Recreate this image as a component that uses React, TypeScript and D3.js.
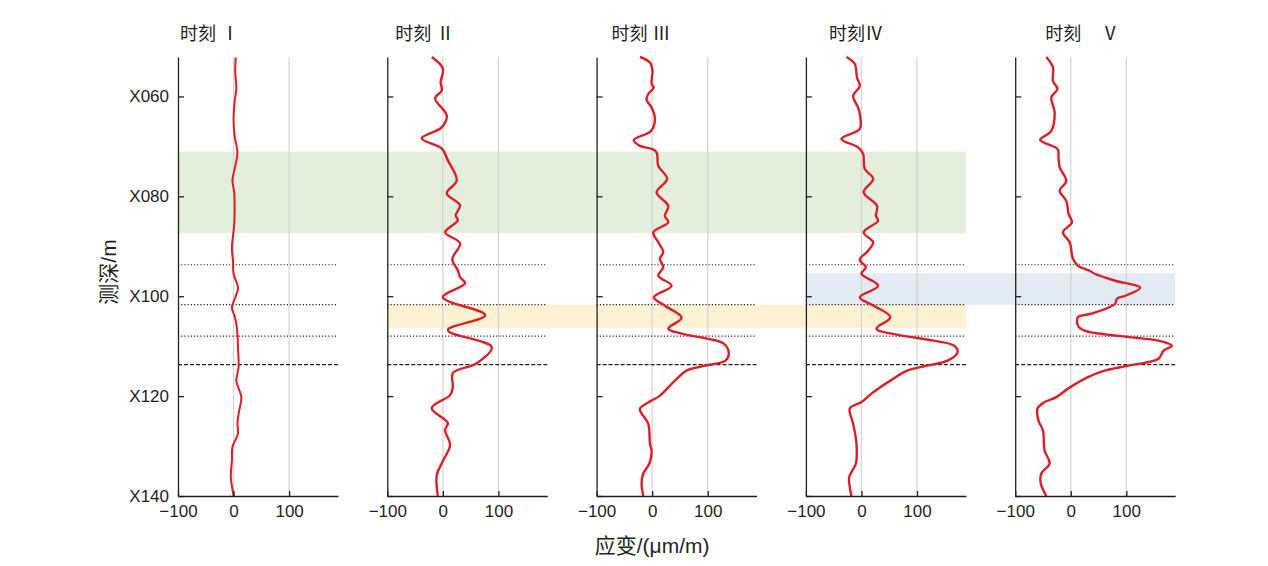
import * as d3 from "d3";
import { useEffect, useRef } from "react";

// depth (m, "X" prefix dropped) and strain (μm/m)
const TITLES = ["时刻 Ⅰ", "时刻 Ⅱ", "时刻 Ⅲ", "时刻Ⅳ", "时刻    Ⅴ"];

const DEPTH_1 = [52.2, 55, 58.4, 61, 64.8, 68, 71.2, 74, 76.8, 79, 82.8, 86, 90.3, 93, 95.5, 98.3, 100, 102.3, 104, 106.3, 110.3, 114.3, 116.9, 120.2, 123, 125.4, 127.5, 130.2, 133, 136.2, 138, 140];
const STRAIN_1 = [4, 3, 5, 2, 0, 2, 7, 3, -2, 1, 2, 1, -3, -1, 0, 8, 4, -3, 2, 6, 8, 9, 5, 14, 10, 7, 8, -2, -3, -5, -3, 0];

const DEPTH_2 = [52.1, 54.4, 57.2, 58.8, 60.4, 63.8, 66.2, 68.4, 70.4, 72.8, 76.8, 79.4, 81.8, 83.8, 84.8, 87.2, 89.4, 92.6, 94.8, 96.2, 97.4, 100.2, 103.8, 106.8, 110.2, 113.4, 115.4, 118.2, 119.8, 122.4, 125.4, 126.8, 129.8, 133, 135.8, 140];
const STRAIN_2 = [-20, 0, -4, -2, -14, 7, -2, -38, -2, 9, 25, 7, 31, 23, 27, 4, 31, 17, 27, 31, 40, 0, 76, 9, 88, 61, 18, 18, 13, -20, 9, 4, 13, 0, -11, -9];

const DEPTH_3 = [52.1, 53.2, 54.9, 57.5, 58.2, 59.5, 60.7, 62.2, 64.5, 66.9, 68.7, 69.9, 70.5, 71.2, 73.9, 76.5, 79.2, 81.9, 83.9, 85.2, 87.2, 89.2, 91.2, 92.5, 94.2, 95.9, 97.9, 100.2, 101.9, 104.3, 106.5, 107.5, 108.5, 109.5, 111.5, 112.9, 113.9, 114.9, 116.9, 119.9, 120.9, 122.5, 123.5, 125.5, 129.5, 130.9, 133.5, 135.5, 137.5, 140];
const STRAIN_3 = [-22, -4, 0.6, -1, 3, -7, -10, -1, 5, -2, -33, -22, -1, 8, 11, 27, 8, 29, 23, 29, 2, 11, 20, 14, 20, 11, 35, 3, 23, 53, 29, 53, 99, 129, 138, 132, 96, 62, 41, 14, -1, -22, -19, -7, -4, -1, -5, -16, -19, -16];

const DEPTH_4 = [52.1, 53.5, 56.2, 57.9, 59.9, 62.2, 63.5, 66.5, 68.5, 70.2, 71.5, 74.5, 76.5, 79.2, 81.9, 83.9, 84.9, 87.2, 89.2, 90.9, 92.7, 94.2, 95.5, 97.9, 100.2, 101.9, 104.2, 106.5, 107.7, 108.9, 109.9, 111.2, 112.9, 113.9, 114.9, 116.9, 119.5, 121.2, 122.5, 125.5, 129.5, 133.5, 136.2, 138.2, 140];
const STRAIN_4 = [-27, -12, -8, -3, -15, -6, -3, -3, -36, -6, 3, 6, 21, 4, 28, 26, 30, 4, 21, 12, -3, 8, 0, 30, -3, 22, 52, 27, 64, 130, 167, 173, 155, 118, 82, 52, 18, 0, -21, -15, -9, -10, -22, -21, -18];

const DEPTH_5 = [52.1, 54.2, 56.9, 58.5, 60.2, 63.2, 66.9, 68.7, 70.5, 72.2, 74.2, 76.9, 78.9, 80.9, 83.5, 85.2, 87.2, 89.2, 92.5, 93.9, 94.9, 95.5, 96.9, 98.3, 99.9, 100.5, 101.5, 103.5, 104.2, 105.9, 106.9, 108.1, 108.9, 109.9, 110.9, 112.5, 113.9, 114.9, 116.2, 118.5, 120.2, 121.2, 122.5, 124.9, 126.9, 130.9, 133.5, 135.5, 137.5, 140];
const STRAIN_5 = [-44, -32, -32, -24, -35, -29, -35, -55, -24, -22, -20, -8, -20, -8, -4, 2, -14, -2, 4, 13, 34, 43, 80, 125, 98, 83, 80, 37, 13, 13, 25, 98, 158, 182, 167, 158, 104, 61, 31, -5, -26, -47, -60, -58, -50, -47, -38, -53, -54, -44];

const DEPTHS = [DEPTH_1, DEPTH_2, DEPTH_3, DEPTH_4, DEPTH_5];
const STRAINS = [STRAIN_1, STRAIN_2, STRAIN_3, STRAIN_4, STRAIN_5];

const DEPTH_TICKS = [60, 80, 100, 120, 140];
const STRAIN_TICKS = [-100, 0, 100];
const GRID_STRAIN = [0, 100];

// marker lines across every panel
const DOTTED_DEPTHS = [93.7, 101.7, 108.0];
const DASHED_DEPTH = 113.7;

// shaded zones: [top, bottom, first panel, last panel]
const BANDS: Array<[number, number, number, number, string]> = [
  [71.05, 87.4, 0, 3, "#e4eedc"],
  [101.7, 106.3, 1, 3, "#fdf1d3"],
  [95.4, 101.7, 3, 4, "#e2eaf4"],
];

const W = 1268;
const H = 566;
const PANEL_W = 160;
const PANEL_STEP = 209.3;
const LEFT0 = 178;
const TOP = 57;
const BOTTOM = 496;
const TITLE_DX = [2, 8, 15, 23, 30];
const FONT = "'Liberation Sans', Arial, 'Noto Sans CJK SC', sans-serif";
const INK = "#231f20";

export default function App() {
  const ref = useRef<SVGSVGElement>(null);

  useEffect(() => {
    if (!ref.current) return;
    const svg = d3.select(ref.current);
    svg.selectAll("*").remove();

    const y = d3.scaleLinear().domain([52.1, 140]).range([TOP, BOTTOM]);
    const xs = DEPTHS.map((_, i) =>
      d3.scaleLinear().domain([-100, 188]).range([LEFT0 + i * PANEL_STEP, LEFT0 + i * PANEL_STEP + PANEL_W]),
    );

    // bands first
    BANDS.forEach(([d0, d1, p0, p1, color]) => {
      svg.append("rect")
        .attr("x", xs[p0](-100))
        .attr("y", y(d0))
        .attr("width", xs[p1](188) - xs[p0](-100))
        .attr("height", y(d1) - y(d0))
        .attr("fill", color);
    });

    xs.forEach((x, i) => {
      const g = svg.append("g");

      g.selectAll(".grid").data(GRID_STRAIN).enter().append("line")
        .attr("x1", (d) => x(d)).attr("x2", (d) => x(d))
        .attr("y1", TOP).attr("y2", BOTTOM)
        .attr("stroke", "#d6d6d6").attr("stroke-width", 1.3);

      g.selectAll(".dot").data(DOTTED_DEPTHS).enter().append("line")
        .attr("x1", x(-100)).attr("x2", x(188))
        .attr("y1", (d) => y(d)).attr("y2", (d) => y(d))
        .attr("stroke", INK).attr("stroke-width", 1.2)
        .attr("stroke-dasharray", "1.2,2");
      g.append("line")
        .attr("x1", x(-100)).attr("x2", x(188))
        .attr("y1", y(DASHED_DEPTH)).attr("y2", y(DASHED_DEPTH))
        .attr("stroke", INK).attr("stroke-width", 1.2)
        .attr("stroke-dasharray", "4,2");

      const pts = DEPTHS[i].map((d, k) => [STRAINS[i][k], d] as [number, number]);
      const line = d3.line<[number, number]>()
        .x((p) => x(p[0]))
        .y((p) => y(p[1]))
        .curve(d3.curveCatmullRom.alpha(0.5));
      g.append("path")
        .datum(pts)
        .attr("fill", "none")
        .attr("stroke", "#dc1f26")
        .attr("stroke-width", i === 0 ? 2 : 2.4)
        .attr("stroke-linejoin", "round")
        .attr("d", line);

      const ya = g.append("g")
        .attr("transform", `translate(${x(-100)},0)`)
        .call(
          d3.axisLeft(y)
            .tickValues(DEPTH_TICKS)
            .tickSize(-6)
            .tickSizeOuter(0)
            .tickPadding(9)
            .tickFormat((d) => (i === 0 ? "X" + d3.format("03d")(d as number) : "")),
        );
      ya.select(".domain").attr("stroke", INK).attr("stroke-width", 1.3);
      ya.selectAll(".tick line").attr("stroke", INK).attr("stroke-width", 1.3);
      ya.selectAll("text").attr("font-size", 17).attr("font-family", FONT).attr("fill", INK);

      const xa = g.append("g")
        .attr("transform", `translate(0,${BOTTOM})`)
        .call(
          d3.axisBottom(x)
            .tickValues(STRAIN_TICKS)
            .tickSize(-5)
            .tickSizeOuter(0)
            .tickPadding(9),
        );
      xa.select(".domain").attr("stroke", INK).attr("stroke-width", 1.3);
      xa.selectAll(".tick line").attr("stroke", INK).attr("stroke-width", 1.3);
      xa.selectAll("text").attr("font-size", 17).attr("font-family", FONT).attr("fill", INK);

      svg.append("text")
        .attr("x", x(-100) + TITLE_DX[i])
        .attr("y", 40)
        .attr("font-size", 18)
        .attr("font-family", FONT)
        .attr("fill", INK)
        .attr("xml:space", "preserve")
        .style("white-space", "pre")
        .text(TITLES[i]);
    });

    svg.append("text")
      .attr("transform", `translate(116,272) rotate(-90)`)
      .attr("text-anchor", "middle")
      .attr("font-size", 21)
      .attr("font-family", FONT)
      .attr("fill", INK)
      .text("测深/m");

    svg.append("text")
      .attr("x", xs[2](0))
      .attr("y", 553)
      .attr("text-anchor", "middle")
      .attr("font-size", 21)
      .attr("font-family", FONT)
      .attr("fill", INK)
      .text("应变/(μm/m)");
  }, []);

  return (
    <svg
      ref={ref}
      width={W}
      height={H}
      style={{ position: "absolute", left: 0, top: 0, background: "#fff" }}
    />
  );
}
